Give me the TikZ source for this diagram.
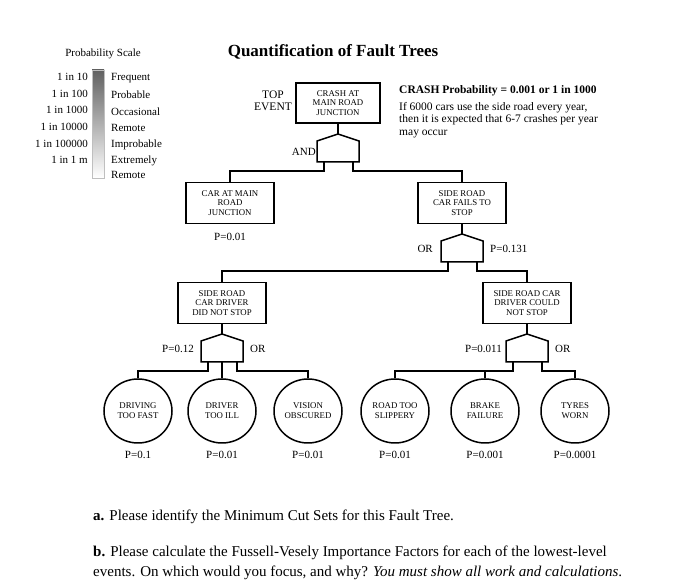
\documentclass[tikz,border=0pt]{standalone}
\usepackage{fontspec}
\setmainfont{Liberation Serif}
\usetikzlibrary{shapes.geometric}
\begin{document}
\begin{tikzpicture}[x=1pt,y=-1pt,
  conn/.style={line width=1.5pt},
  evbox/.style={draw,line width=1.5pt,minimum width=88pt,minimum height=41pt,align=center,inner sep=1pt,font=\fontsize{8.8}{9.8}\selectfont},
  evcirc/.style={draw,ellipse,line width=1.5pt,minimum width=68pt,minimum height=64pt,inner sep=0pt,align=center,font=\fontsize{8.8}{9.8}\selectfont},
  lab/.style={inner sep=0pt,font=\fontsize{11}{13}\selectfont},
  scl/.style={inner sep=0pt,font=\fontsize{11}{13}\selectfont},
  gatepic/.pic={
    \draw[conn] (-21,7) -- (0,0) -- (21,7) -- (21,28) -- (-21,28) -- cycle;
    \coordinate (-top) at (0,0);
    \coordinate (-l) at (-14,28);
    \coordinate (-m) at (0,28);
    \coordinate (-r) at (15,28);
    \coordinate (-lb) at (-14,37);
  }]
\useasboundingbox (0,0) rectangle (681,585);

% probability scale
\node[scl] (ps) at (103,54) {Probability Scale};
\shade[top color=black!62, bottom color=white] (92,70) rectangle (104,178);
\draw[black!25, line width=0.8pt] (92,70) rectangle (104,178);
\node[scl,anchor=east] (s1) at (88,77) {1 in 10};
\node[scl,anchor=east] (s2) at (88,93.6) {1 in 100};
\node[scl,anchor=east] (s3) at (88,110.2) {1 in 1000};
\node[scl,anchor=east] (s4) at (88,126.8) {1 in 10000};
\node[scl,anchor=east] (s5) at (88,143.4) {1 in 100000};
\node[scl,anchor=east] (s6) at (88,160) {1 in 1 m};
\node[scl,anchor=west] (k1) at (111,78) {Frequent};
\node[scl,anchor=west] (k2) at (111,95) {Probable};
\node[scl,anchor=west] (k3) at (111,112) {Occasional};
\node[scl,anchor=west] (k4) at (111,128) {Remote};
\node[scl,anchor=west] (k5) at (111,145) {Improbable};
\node[scl,anchor=west] (k6) at (111,161) {Extremely};
\node[scl,anchor=west] (k7) at (111,175) {Remote};

% title
\node[inner sep=0pt,font=\bfseries\fontsize{17}{20}\selectfont] (title) at (333,52) {Quantification of Fault Trees};

% top event
\node[lab,align=center,font=\fontsize{11.5}{12.5}\selectfont] (te) at (273,101) {TOP\\EVENT};
\node[evbox,line width=2.1pt,minimum width=84pt,minimum height=40pt] (tb) at (338,103) {CRASH AT\\MAIN ROAD\\JUNCTION};
\node[anchor=west,inner sep=0pt,font=\bfseries\fontsize{11.5}{13}\selectfont] (cp) at (399,91) {CRASH Probability = 0.001 or 1 in 1000};
\node[anchor=north west,inner sep=0pt,align=left,font=\fontsize{11.5}{12.5}\selectfont] (ifx) at (399,102) {If 6000 cars use the side road every year,\\then it is expected that 6-7 crashes per year\\may occur};

\pic (g1) at (338,134) {gatepic};
\node[lab,anchor=east] (andl) at (316,152) {AND};

% level 2
\node[evbox] (c1) at (230,203) {CAR AT MAIN\\ROAD\\JUNCTION};
\node[lab] (pc1) at (230,237) {P=0.01};
\node[evbox] (c2) at (462,203) {SIDE ROAD\\CAR FAILS TO\\STOP};
\pic (g2) at (462,234) {gatepic};
\node[lab,anchor=east] (or2) at (433,249) {OR};
\node[lab,anchor=west] (pc2) at (490,249) {P=0.131};

% level 3
\node[evbox] (d1) at (222,303) {SIDE ROAD\\CAR DRIVER\\DID NOT STOP};
\node[evbox] (d2) at (527,303) {SIDE ROAD CAR\\DRIVER COULD\\NOT STOP};
\pic (g3) at (222,334) {gatepic};
\pic (g4) at (527,334) {gatepic};
\node[lab,anchor=east] (pd1) at (194,349) {P=0.12};
\node[lab,anchor=west] (or3) at (250,349) {OR};
\node[lab,anchor=east] (pd2) at (502,349) {P=0.011};
\node[lab,anchor=west] (or4) at (555,349) {OR};

% basic events
\node[evcirc] (e1) at (138,411) {DRIVING\\TOO FAST};
\node[evcirc] (e2) at (222,411) {DRIVER\\TOO ILL};
\node[evcirc] (e3) at (308,411) {VISION\\OBSCURED};
\node[evcirc] (e4) at (395,411) {ROAD TOO\\SLIPPERY};
\node[evcirc] (e5) at (485,411) {BRAKE\\FAILURE};
\node[evcirc] (e6) at (575,411) {TYRES\\WORN};
\node[lab] (p1) at (138,455) {P=0.1};
\node[lab] (p2) at (222,455) {P=0.01};
\node[lab] (p3) at (308,455) {P=0.01};
\node[lab] (p4) at (395,455) {P=0.01};
\node[lab] (p5) at (485,455) {P=0.001};
\node[lab] (p6) at (575,455) {P=0.0001};

% connectors
\draw[conn] (tb.south) -- (g1-top);
\draw[conn] (g1-l) -- ++(0,9) -| (c1.north);
\draw[conn] (g1-r) -- ++(0,9) -| (c2.north);
\draw[conn] (c2.south) -- (g2-top);
\draw[conn] (g2-l) -- ++(0,9) -| (d1.north);
\draw[conn] (g2-r) -- ++(0,9) -| (d2.north);
\draw[conn] (d1.south) -- (g3-top);
\draw[conn] (d2.south) -- (g4-top);
\draw[conn] (g3-l) -- ++(0,9) -| (e1.north);
\draw[conn] (g3-m) -- (e2.north);
\draw[conn] (g3-r) -- ++(0,9) -| (e3.north);
\draw[conn] (g4-l) -- (g4-lb) -| (e4.north);
\draw[conn] (g4-lb -| e5.north) -- (e5.north);
\draw[conn] (g4-r) -- ++(0,9) -| (e6.north);

% questions
\node[anchor=west,inner sep=0pt,font=\fontsize{15}{19}\selectfont] (qa) at (93,517) {\textbf{a.} Please identify the Minimum Cut Sets for this Fault Tree.};
\node[anchor=north west,inner sep=0pt,align=left,font=\fontsize{15}{19.5}\selectfont] (qb) at (93,546) {\textbf{b.} Please calculate the Fussell-Vesely Importance Factors for each of the lowest-level\\events. On which would you focus, and why? \textit{You must show all work and calculations}.};
\end{tikzpicture}
\end{document}
